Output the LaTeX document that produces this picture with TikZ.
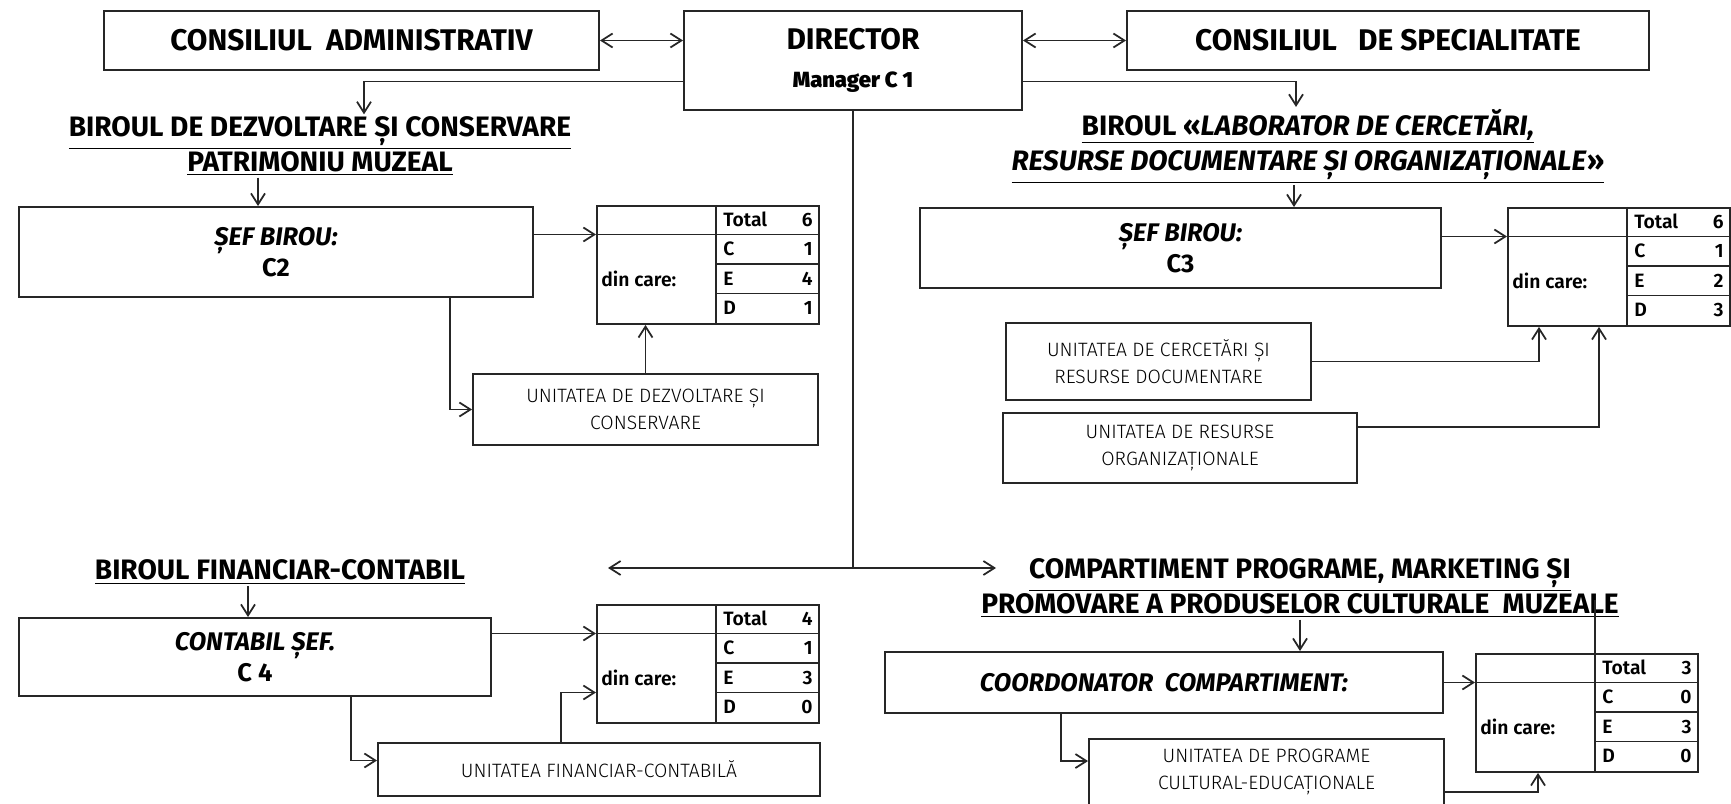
\documentclass[tikz,border=0pt]{standalone}
\usepackage{fontspec}
\setmainfont{Fira Sans}
\newfontfamily\unitfont{Fira Sans Light}
\newfontfamily\semifont{Fira Sans SemiBold}
\usetikzlibrary{arrows.meta, positioning, calc}
\def\pxs{0.02cm}
\tikzset{
  orgbox/.style={
    draw=black!85, line width=1.1pt, inner sep=2pt, align=center,
  },
  headbox/.style={
    orgbox, font=\fontsize{17}{20}\selectfont\bfseries,
  },
  chiefbox/.style={
    orgbox, font=\fontsize{14.5}{18}\selectfont\bfseries,
  },
  unitbox/.style={
    orgbox, font=\unitfont\fontsize{11}{15.5}\selectfont,
  },
  officetitle/.style={
    align=center, inner sep=1pt, font=\fontsize{16}{20}\selectfont\bfseries,
  },
  tabframe/.style={
    draw=black!85, line width=1.1pt, inner sep=0pt,
    minimum width=222*\pxs, minimum height=118*\pxs,
  },
  tabline/.style={draw=black!85, line width=1pt},
  tabtext/.style={inner sep=0pt, font=\semifont\fontsize{11}{13}\selectfont},
  flow/.style={
    -{Straight Barb[length=2.2mm, width=2.8mm]}, line width=1pt, draw=black!85,
  },
  bothflow/.style={
    {Straight Barb[length=2.2mm, width=2.8mm]}-{Straight Barb[length=2.2mm, width=2.8mm]},
    line width=1pt, draw=black!85,
  },
}
\newcommand{\stafftable}[6]{%
  % #1 = name, #2 = top-left corner, #3 = total, #4 = C, #5 = E, #6 = D
  \node[tabframe, anchor=north west] (#1) at (#2) {};
  \coordinate (#1-r1) at ($(#1.north west)+(0,29.5)$);
  \coordinate (#1-r2) at ($(#1.north west)+(0,59)$);
  \coordinate (#1-r3) at ($(#1.north west)+(0,88.5)$);
  \coordinate (#1-div) at ($(#1.north west)+(120,0)$);
  \draw[tabline] (#1-r1) -- (#1-r1 -| #1.east);
  \draw[tabline] (#1-div) -- (#1-div |- #1.south);
  \draw[tabline] (#1-r2 -| #1-div) -- (#1-r2 -| #1.east);
  \draw[tabline] (#1-r3 -| #1-div) -- (#1-r3 -| #1.east);
  \node[tabtext, anchor=west] at ($(#1-div)+(7,14.75)$) {Total};
  \node[tabtext, anchor=west] at ($(#1-div)+(7,44.25)$) {C};
  \node[tabtext, anchor=west] at ($(#1-div)+(7,73.75)$) {E};
  \node[tabtext, anchor=west] at ($(#1-div)+(7,103.25)$) {D};
  \node[tabtext, anchor=east] at ($(#1.north east)+(-7,14.75)$) {#3};
  \node[tabtext, anchor=east] at ($(#1.north east)+(-7,44.25)$) {#4};
  \node[tabtext, anchor=east] at ($(#1.north east)+(-7,73.75)$) {#5};
  \node[tabtext, anchor=east] at ($(#1.north east)+(-7,103.25)$) {#6};
  \node[tabtext, anchor=west] at ($(#1-r1)+(5,44.25)$) {din care:};
}

\begin{document}
\begin{tikzpicture}[x=0.02cm, y=-0.02cm]
\useasboundingbox (0,0) rectangle (1731,804);

% top row
\node[headbox, minimum width=495*\pxs, minimum height=59*\pxs] (cadm) at (351.5,40.5)
  {CONSILIUL\ \ ADMINISTRATIV};
\node[headbox, minimum width=338*\pxs, minimum height=99*\pxs] (dir) at (853,60.5)
  {DIRECTOR\\[2pt]{\semifont\fontsize{12.5}{15}\selectfont Manager C 1}};
\node[headbox, minimum width=522*\pxs, minimum height=59*\pxs] (cspec) at (1388,40.5)
  {CONSILIUL\ \ \ DE SPECIALITATE};

% office titles
\node[officetitle] (dezv) at (320,146)
  {\underline{BIROUL DE DEZVOLTARE ȘI CONSERVARE}\\\underline{PATRIMONIU MUZEAL}};
\node[officetitle] (lab) at (1308,146)
  {\underline{BIROUL «\textit{LABORATOR DE CERCETĂRI,}}\\
   \underline{\textit{RESURSE DOCUMENTARE ȘI ORGANIZAȚIONALE}»}};
\node[officetitle] (fin) at (280,572) {\underline{BIROUL FINANCIAR-CONTABIL}};
\node[officetitle] (prog) at (1300,588)
  {\underline{COMPARTIMENT PROGRAME, MARKETING ȘI}\\
   \underline{PROMOVARE A PRODUSELOR CULTURALE\ \ MUZEALE}};

% chiefs
\node[chiefbox, minimum width=514*\pxs, minimum height=90*\pxs] (sef2) at (276,252)
  {\textit{ȘEF BIROU:}\\C2};
\node[chiefbox, minimum width=521*\pxs, minimum height=80*\pxs] (sef3) at (1180.5,248)
  {\textit{ȘEF BIROU:}\\C3};
\node[chiefbox, minimum width=472*\pxs, minimum height=78*\pxs] (contab) at (255,657)
  {\textit{CONTABIL ȘEF.}\\C 4};
\node[chiefbox, minimum width=558*\pxs, minimum height=61*\pxs] (coord) at (1164,682.5)
  {\textit{COORDONATOR\ \ COMPARTIMENT:}};

% units
\node[unitbox, minimum width=345*\pxs, minimum height=71*\pxs] (unit2) at (645.5,409.5)
  {UNITATEA DE DEZVOLTARE ȘI\\CONSERVARE};
\node[unitbox, minimum width=305*\pxs, minimum height=77*\pxs] (unit3a) at (1158.5,361.5)
  {UNITATEA DE CERCETĂRI ȘI\\RESURSE DOCUMENTARE};
\node[unitbox, minimum width=354*\pxs, minimum height=70*\pxs] (unit3b) at (1180,448)
  {UNITATEA DE RESURSE\\ORGANIZAȚIONALE};
\node[unitbox, minimum width=442*\pxs, minimum height=53*\pxs] (unit4) at (599,769.5)
  {UNITATEA FINANCIAR-CONTABILĂ};
\node[unitbox, minimum width=355*\pxs, minimum height=66*\pxs] (unit5) at (1266.5,772)
  {UNITATEA DE PROGRAME\\CULTURAL-EDUCAȚIONALE};

% staff tables
\stafftable{tab2}{596,205}{6}{1}{4}{1}
\stafftable{tab3}{1507,207}{6}{1}{2}{3}
\stafftable{tab4}{596,604}{4}{1}{3}{0}
\stafftable{tab5}{1475,653}{3}{0}{3}{0}

% arrows
\draw[bothflow] (cadm.east) -- (cadm.east -| dir.west);
\draw[bothflow] (dir.east |- cspec.west) -- (cspec.west);
\draw[flow] ([yshift=-21*\pxs]dir.west) -| ([xshift=44*\pxs]dezv.north);
\draw[flow] ([yshift=-21*\pxs]dir.east) -| ([xshift=-12*\pxs]lab.north);

\draw[flow] ([xshift=-62*\pxs]dezv.south) -- ([xshift=-62*\pxs]dezv.south |- sef2.north);
\draw[flow] (sef2.east |- tab2-r1) -- (tab2-r1);
\draw[flow] ([xshift=174*\pxs]sef2.south) |- (unit2.west);
\draw[flow] (unit2.north) -- (unit2.north |- tab2.south);

\draw[flow] ([xshift=-14*\pxs]lab.south) -- ([xshift=-14*\pxs]lab.south |- sef3.north);
\draw[flow] (sef3.east |- tab3-r1) -- (tab3-r1);
\draw[flow] (unit3a.east) -| ([xshift=32*\pxs]tab3.south west);
\draw[flow] ([yshift=21*\pxs]unit3b.east) -| ([xshift=92*\pxs]tab3.south west);

\coordinate (hubL) at (608,568);
\coordinate (hubR) at (996,568);
\draw[line width=1pt, draw=black!85] (dir.south) -- (dir.south |- hubL);
\draw[bothflow] (hubL) -- (hubR);

\draw[flow] ([xshift=-32*\pxs]fin.south) -- ([xshift=-32*\pxs]fin.south |- contab.north);
\draw[flow] (contab.east |- tab4-r1) -- (tab4-r1);
\draw[flow] ([xshift=96*\pxs]contab.south) |- ([yshift=9*\pxs]unit4.west);
\draw[flow] ([xshift=-38*\pxs]unit4.north) |- (tab4-r3);

\draw[flow] (prog.south) -- (prog.south |- coord.north);
\draw[flow] (coord.east |- tab5-r1) -- (tab5-r1);
\draw[flow] ([xshift=-103*\pxs]coord.south) |- ([yshift=-23*\pxs]unit5.north west);
\draw[flow] ([yshift=-54*\pxs]unit5.north east) -| ([xshift=63*\pxs]tab5.south west);
\draw[line width=1pt, draw=black!85] (tab5-div) -- ++(0,-53);

\end{tikzpicture}
\end{document}
